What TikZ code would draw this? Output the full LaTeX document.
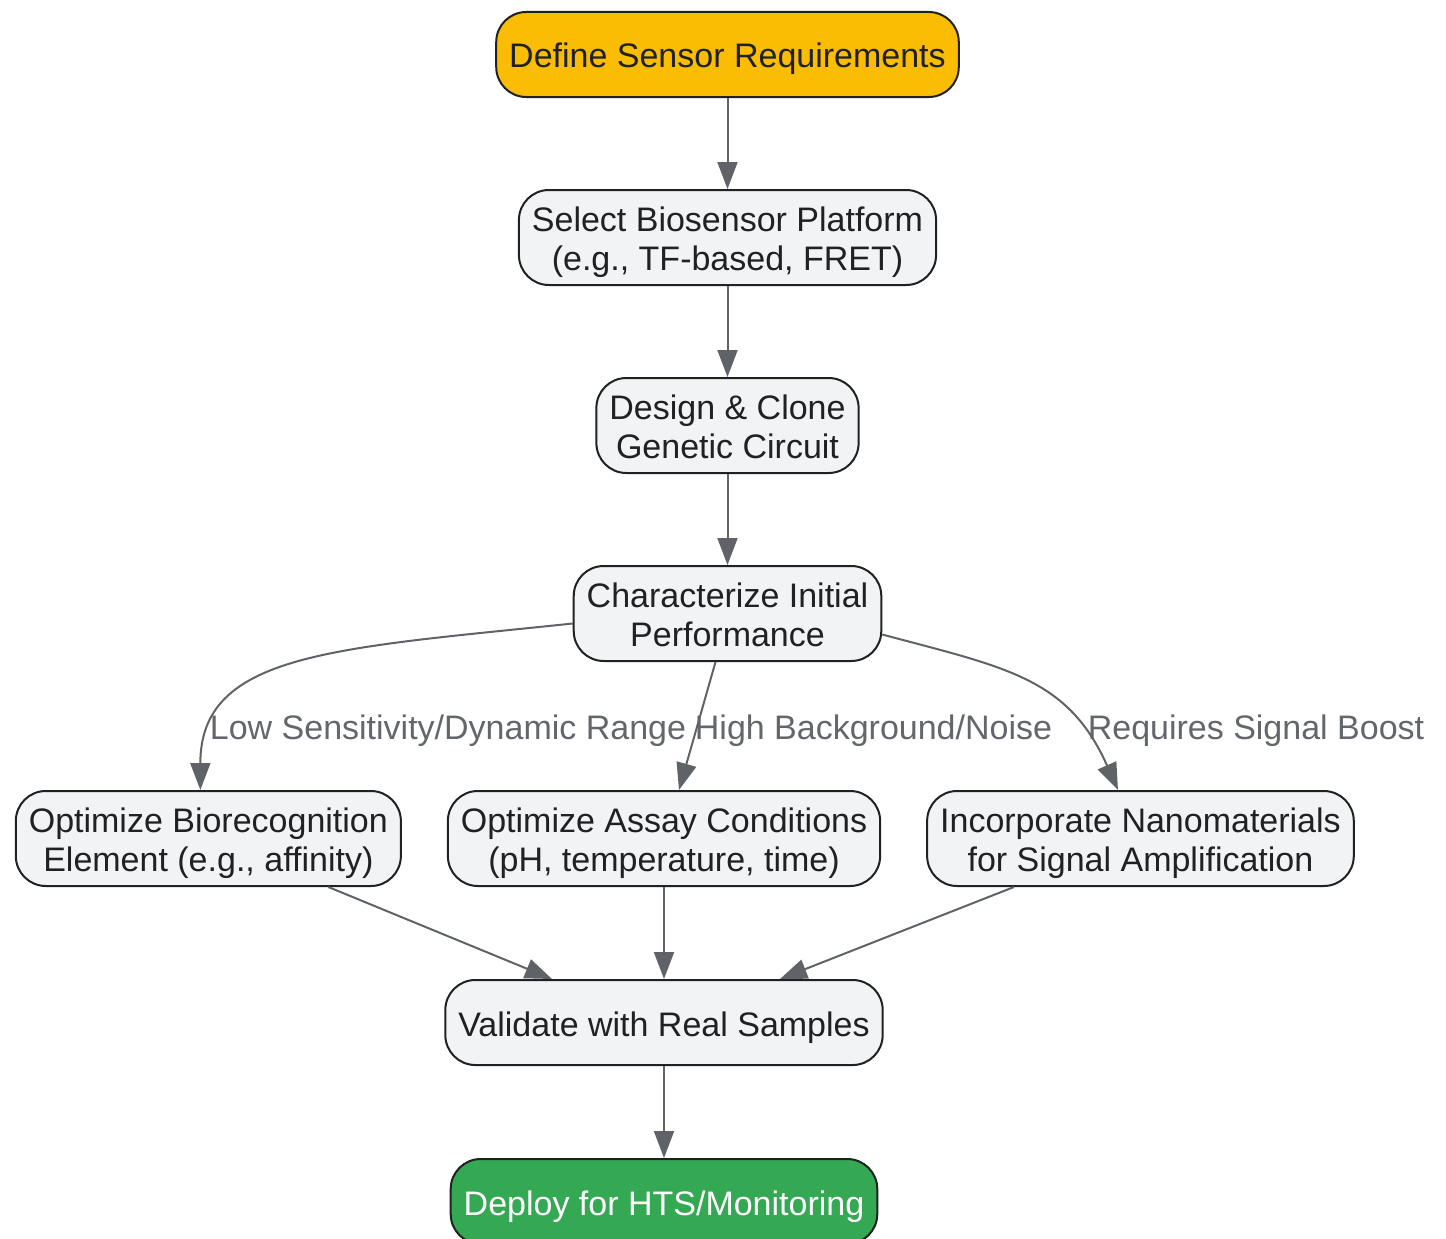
\documentclass[tikz,border=0pt]{standalone}
\usepackage{fontspec}
\setmainfont{Liberation Sans}
\usetikzlibrary{arrows.meta,positioning}

\definecolor{stepfill}{HTML}{F1F3F4}
\definecolor{startfill}{HTML}{FBBC04}
\definecolor{endfill}{HTML}{34A853}
\definecolor{nodeline}{HTML}{202124}
\definecolor{linegray}{HTML}{5F6368}
\definecolor{labelgray}{HTML}{63666A}

\tikzset{
  block/.style={draw=nodeline, line width=2pt, rounded corners=30pt, fill=stepfill,
    text=nodeline, align=center, inner xsep=13pt, inner ysep=4pt,
    minimum height=85pt, font=\fontsize{34}{39}\selectfont,
    execute at begin node=\rule{0pt}{35pt},
    execute at end node=\rule[-8pt]{0pt}{8pt}},
  twoline/.style={block, minimum height=95pt, execute at begin node=\rule{0pt}{74pt}},
  startblock/.style={block, fill=startfill},
  endblock/.style={block, fill=endfill, text=white},
  condlabel/.style={text=labelgray, anchor=base, font=\fontsize{34}{39}\selectfont},
  flow/.style={->, color=linegray, line width=2pt},
}

\begin{document}
\begin{tikzpicture}[x=1pt, y=1pt, >={Triangle[length=27pt,width=20pt]}]
    \useasboundingbox (0,0) rectangle (1446,-1239);

    \node [startblock] (define) at (727.5,-54.5) {Define Sensor Requirements};
    \node [twoline] [below=91pt of define] (select) {Select Biosensor Platform\\(e.g., TF-based, FRET)};
    \node [twoline] [below=91pt of select] (design) {Design \& Clone\\Genetic Circuit};
    \node [twoline] [below=91pt of design] (char) {Characterize Initial\\Performance};
    \node [twoline] [below=128pt of char, xshift=-63.5pt] (assay) {Optimize Assay Conditions\\(pH, temperature, time)};
    \node [twoline] [left=45pt of assay] (bio) {Optimize Biorecognition\\Element (e.g., affinity)};
    \node [twoline] [right=45pt of assay] (nano) {Incorporate Nanomaterials\\for Signal Amplification};
    \node [block] [below=92pt of assay] (valid) {Validate with Real Samples};
    \node [endblock] [below=92pt of valid] (deploy) {Deploy for HTS/Monitoring};

    \node [condlabel] (lowsens) at (448,-739) {Low Sensitivity/Dynamic Range};
    \node [condlabel] (highbg) at (873.5,-739) {High Background/Noise};
    \node [condlabel] (boost) at (1256,-739) {Requires Signal Boost};

      \path[flow]
      (define) edge (select)
      (select) edge (design)
      (design) edge (char)
      ([yshift=-10pt]char.west) edge [out=186, in=90, out distance=241pt, in distance=137pt] ([xshift=-8pt]bio.north)
      ([xshift=-12pt]char.south) edge ([xshift=15pt]assay.north)
      ([yshift=-21pt]char.east) edge [out=-15, in=114, out distance=128pt, in distance=123pt] ([xshift=-22.5pt]nano.north)
      ([xshift=120pt]bio.south) edge ([xshift=-112pt]valid.north)
      (assay) edge (valid)
      ([xshift=-126.5pt]nano.south) edge ([xshift=116pt]valid.north)
      (valid) edge (deploy)
      ;
  \end{tikzpicture}
\end{document}
